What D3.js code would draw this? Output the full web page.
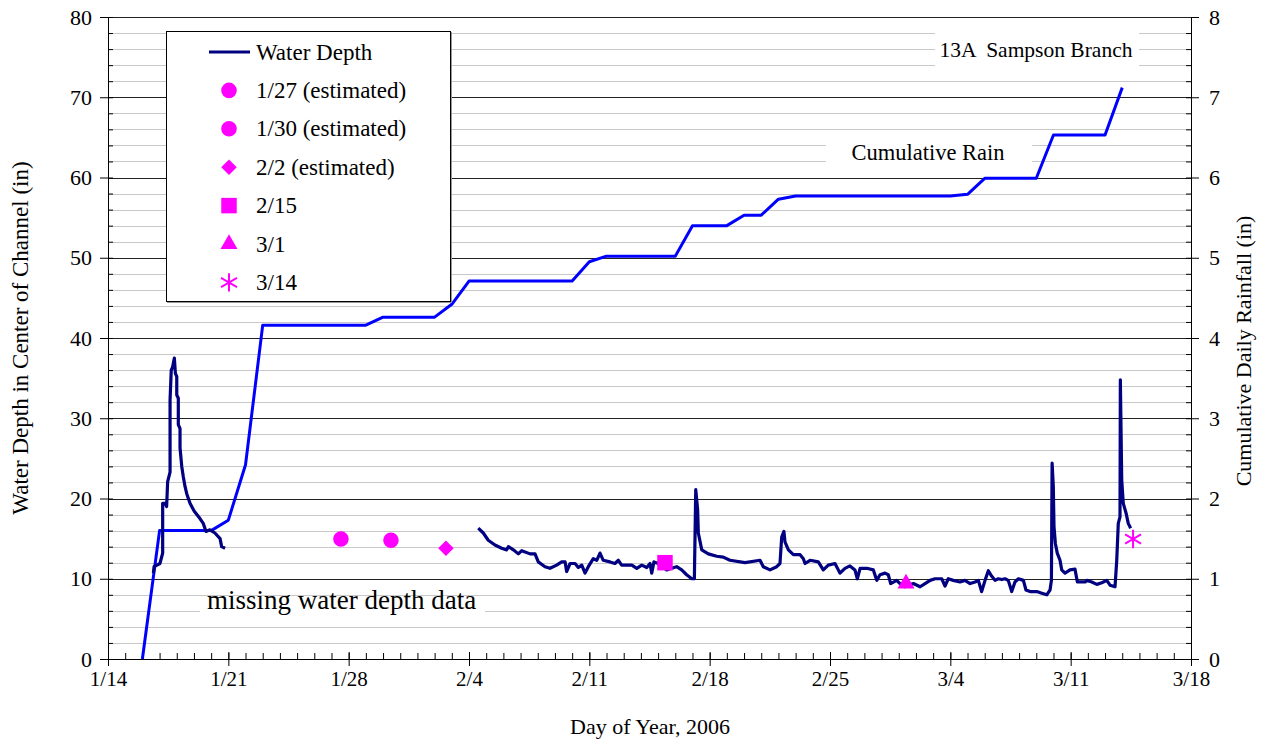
<!DOCTYPE html>
<html>
<head>
<meta charset="utf-8">
<script src="https://cdn.jsdelivr.net/npm/d3@7"></script>
<style>
  body { margin: 0; background: #fff; }
  text { font-family: "Liberation Serif", serif; fill: #000; }
</style>
</head>
<body>
<svg id="chart" width="1271" height="744"></svg>
<script>
// day offsets are counted from 1/14/2006
const startDay = new Date(2006, 0, 14)

// water depth (in), recorded in two pieces with a gap between them
const depthPart1 = [
  [2.64, 10.7], [2.68, 11.5], [3.02, 11.9], [3.18, 13.2], [3.18, 19.4], [3.32, 19.4], [3.41, 19.0],
  [3.47, 22.1], [3.61, 23.3], [3.61, 32.3], [3.68, 36.0], [3.76, 36.4], [3.86, 37.5], [3.92, 35.6],
  [4.0, 35.2], [4.0, 32.9], [4.09, 32.5], [4.09, 29.2], [4.19, 28.7], [4.19, 26.3], [4.29, 24.0],
  [4.38, 22.7], [4.48, 21.5], [4.58, 20.6], [4.77, 19.4], [5.02, 18.4], [5.35, 17.5], [5.54, 16.9],
  [5.70, 15.9], [5.93, 16.1], [6.22, 15.7], [6.52, 15.0], [6.61, 14.0], [6.81, 13.8]
]
const depthPart2 = [
  [21.54, 16.3], [21.83, 15.7], [22.12, 14.8], [22.51, 14.2], [22.90, 13.8], [23.19, 13.6], [23.29, 14.0],
  [23.58, 13.6], [23.87, 13.1], [24.07, 13.5], [24.55, 13.1], [24.84, 13.1], [25.03, 12.1], [25.42, 11.5],
  [25.71, 11.3], [26.10, 11.7], [26.39, 12.1], [26.59, 12.1], [26.68, 10.9], [26.88, 11.9], [27.17, 11.9],
  [27.36, 11.4], [27.56, 11.7], [27.75, 10.7], [27.94, 11.5], [28.23, 12.5], [28.43, 12.3], [28.62, 13.2],
  [28.81, 12.3], [29.20, 12.1], [29.49, 11.9], [29.69, 12.3], [29.88, 11.7], [30.17, 11.7], [30.47, 11.7],
  [30.76, 11.3], [31.05, 11.7], [31.34, 11.4], [31.53, 11.9], [31.63, 10.7], [31.76, 12.1], [32.01, 11.9],
  [32.50, 11.1], [32.79, 11.3], [33.08, 11.5], [33.37, 11.1], [33.66, 10.5], [33.96, 10.0], [34.11, 10.0],
  [34.19, 21.1], [34.30, 18.6], [34.34, 15.7], [34.54, 13.6], [34.92, 13.1], [35.41, 12.8], [35.79, 12.7],
  [36.18, 12.3], [37.06, 12.0], [37.93, 12.3], [38.12, 11.5], [38.51, 11.1], [38.90, 11.5], [39.09, 11.9],
  [39.19, 15.2], [39.32, 15.9], [39.38, 14.6], [39.58, 13.6], [39.87, 13.0], [40.26, 13.0], [40.45, 12.5],
  [40.55, 11.9], [40.84, 12.3], [41.32, 12.1], [41.61, 11.1], [41.90, 11.7], [42.29, 11.9], [42.58, 10.7],
  [42.87, 11.3], [43.16, 11.6], [43.45, 11.1], [43.59, 10.0], [43.75, 11.3], [44.14, 11.3], [44.52, 11.1],
  [44.72, 9.8], [44.91, 10.5], [45.20, 10.7], [45.39, 10.5], [45.53, 9.4], [45.88, 9.8], [46.07, 9.4],
  [46.36, 9.0], [46.85, 9.4], [47.24, 9.0], [47.53, 9.4], [47.82, 9.8], [48.11, 10.0], [48.50, 10.0],
  [48.69, 9.1], [48.88, 10.0], [49.17, 9.8], [49.56, 9.6], [49.85, 9.8], [50.15, 9.4], [50.44, 9.6],
  [50.63, 9.8], [50.82, 8.4], [51.02, 9.8], [51.21, 11.0], [51.41, 10.3], [51.60, 9.8], [51.79, 10.0],
  [51.99, 9.9], [52.18, 10.0], [52.37, 9.8], [52.57, 8.4], [52.76, 9.6], [52.96, 10.0], [53.25, 9.8],
  [53.40, 8.6], [53.64, 8.4], [54.03, 8.4], [54.32, 8.2], [54.61, 8.0], [54.80, 8.6], [54.88, 9.8],
  [54.92, 24.4], [54.99, 21.5], [55.03, 16.5], [55.11, 14.4], [55.22, 13.2], [55.38, 12.3], [55.48, 11.1],
  [55.67, 10.7], [55.96, 11.1], [56.25, 11.2], [56.39, 9.6], [56.84, 9.6], [56.94, 9.8], [57.23, 9.6],
  [57.52, 9.3], [57.81, 9.5], [58.10, 9.8], [58.29, 9.2], [58.58, 9.0], [58.68, 12.3], [58.77, 16.9],
  [58.87, 17.7], [58.89, 34.8], [58.97, 22.3], [59.06, 19.4], [59.22, 18.2], [59.35, 16.9], [59.49, 16.3]
]

// cumulative rain (in), right axis
const rainDays = [2, 3, 6, 7, 8, 9, 15, 16, 19, 20, 21, 27, 28, 29, 33, 34, 36, 37, 38, 39, 40, 49, 50, 51, 54, 55, 58, 59]
const rainVals = [0, 1.6, 1.6, 1.73, 2.42, 4.16, 4.16, 4.26, 4.26, 4.42, 4.71, 4.71, 4.95, 5.02, 5.02, 5.40, 5.40,
  5.53, 5.53, 5.73, 5.77, 5.77, 5.79, 5.99, 5.99, 6.53, 6.53, 7.12]

// measured / estimated depths
const pointLabels = ["1/27 (estimated)", "1/30 (estimated)", "2/2 (estimated)", "2/15", "3/1", "3/14"]
const pointShapes = ["circle", "circle", "diamond", "square", "triangle", "asterisk"]
const pointDays = [13.55, 16.46, 19.66, 32.4, 46.42, 59.63]
const pointVals = [14.95, 14.8, 13.8, 12.0, 9.4, 14.95]

const xTickDays = [0, 7, 14, 21, 28, 35, 42, 49, 56, 63]
const leftTicks = [0, 10, 20, 30, 40, 50, 60, 70, 80]
const rightTicks = [0, 1, 2, 3, 4, 5, 6, 7, 8]

const toDate = d => new Date(startDay.getTime() + d * 864e5)

const margin = { top: 17, right: 80, bottom: 85, left: 108 }
const width = 1083
const height = 642
const depthColor = '#000080'
const rainColor = '#0000ff'
const markColor = '#ff00ff'
const serif = '"Liberation Serif", serif'

const svg = d3.select('#chart')
const chart = svg.append('g').attr('transform', `translate(${margin.left}, ${margin.top})`)

const x = d3.scaleTime().domain([toDate(0), toDate(63)]).range([0, width])
const yL = d3.scaleLinear().domain([0, 80]).range([height, 0])
const yR = d3.scaleLinear().domain([0, 8]).range([height, 0])

// grid
const gridVals = d3.range(2, 81, 2)
chart.append('g').selectAll('line')
  .data(gridVals)
  .join('line')
  .attr('x1', 0).attr('x2', width)
  .attr('y1', d => Math.round(yL(d)) + 0.5).attr('y2', d => Math.round(yL(d)) + 0.5)
  .attr('stroke', d => d % 10 === 0 ? '#222' : '#c8c8c8')
  .attr('stroke-width', 1)

// white boxes behind the notes
const noteBox = (x0, y0, bw, bh) => chart.append('rect')
  .attr('x', x0 - margin.left).attr('y', y0 - margin.top)
  .attr('width', bw).attr('height', bh).attr('fill', '#fff')
noteBox(935, 28, 204, 44)
noteBox(826, 135, 206, 35)
noteBox(200, 600, 285, 22)

// axes
const styleAxis = (g, size = 20) => {
  g.attr('font-family', serif).attr('font-size', size)
  g.selectAll('text').style('font-family', serif).style('font-size', size + 'px').attr('fill', '#000')
  g.selectAll('line').attr('stroke', '#000')
  g.select('.domain').attr('stroke', '#000')
}
chart.append('g')
  .call(d3.axisLeft(yL).tickValues(leftTicks).tickSize(8).tickSizeOuter(0).tickPadding(8))
  .call(styleAxis, 22)
chart.append('g')
  .call(d3.axisLeft(yL).tickValues(gridVals).tickSize(-5).tickSizeOuter(0).tickFormat(''))
  .call(styleAxis)
chart.append('g')
  .attr('transform', `translate(${width}, 0)`)
  .call(d3.axisRight(yR).tickValues(rightTicks).tickSize(8).tickSizeOuter(0).tickPadding(10))
  .call(styleAxis, 22)
chart.append('g')
  .attr('transform', `translate(${width}, 0)`)
  .call(d3.axisRight(yR).tickValues(d3.range(0.2, 8, 0.2)).tickSize(-5).tickSizeOuter(0).tickFormat(''))
  .call(styleAxis)
chart.append('g')
  .attr('transform', `translate(0, ${height})`)
  .call(d3.axisBottom(x).tickValues(d3.range(0, 64).map(toDate)).tickSize(-6).tickSizeOuter(0).tickFormat(''))
  .call(styleAxis)
chart.append('g')
  .attr('transform', `translate(0, ${height})`)
  .call(d3.axisBottom(x).tickValues(xTickDays.map(toDate)).tickSize(-7).tickSizeOuter(0).tickFormat(''))
  .call(styleAxis)
chart.append('g')
  .attr('transform', `translate(0, ${height})`)
  .call(d3.axisBottom(x).tickValues(xTickDays.map(toDate)).tickSize(7).tickSizeOuter(0).tickPadding(5)
    .tickFormat(d3.timeFormat('%-m/%-d')))
  .call(styleAxis, 21)

// lines
const rainLine = d3.line()
  .x((d, i) => x(toDate(rainDays[i])))
  .y(d => yR(d))
chart.append('path')
  .datum(rainVals)
  .attr('fill', 'none')
  .attr('stroke', rainColor)
  .attr('stroke-width', 3)
  .attr('stroke-linejoin', 'round')
  .attr('d', rainLine)

const depthLine = d3.line()
  .x(d => x(toDate(d[0])))
  .y(d => yL(d[1]))
chart.selectAll('.depth')
  .data([depthPart1, depthPart2])
  .join('path')
  .attr('class', 'depth')
  .attr('fill', 'none')
  .attr('stroke', depthColor)
  .attr('stroke-width', 3.2)
  .attr('stroke-linejoin', 'round')
  .attr('d', depthLine)

// markers
const asterisk = {
  draw(ctx, size) {
    const r = Math.sqrt(size) / 2
    const a = r * Math.cos(Math.PI / 6), b = r * Math.sin(Math.PI / 6)
    ctx.moveTo(0, -r); ctx.lineTo(0, r)
    ctx.moveTo(-a, -b); ctx.lineTo(a, b)
    ctx.moveTo(-a, b); ctx.lineTo(a, -b)
  }
}
const drawMark = (sel, shape) => {
  if (shape === 'circle') sel.attr('d', d3.symbol(d3.symbolCircle, 190)()).attr('fill', markColor)
  if (shape === 'square') sel.attr('d', d3.symbol(d3.symbolSquare, 240)()).attr('fill', markColor)
  if (shape === 'diamond') sel.attr('d', d3.symbol(d3.symbolSquare, 120)()).attr('fill', markColor)
    .attr('transform', sel.attr('transform') + ' rotate(45)')
  if (shape === 'triangle') sel.attr('d', d3.symbol(d3.symbolTriangle, 125)()).attr('fill', markColor)
  if (shape === 'asterisk') sel.attr('d', d3.symbol(asterisk, 340)()).attr('fill', 'none')
    .attr('stroke', markColor).attr('stroke-width', 2)
}
pointDays.forEach((d, i) => {
  const p = chart.append('path').attr('transform', `translate(${x(toDate(d))}, ${yL(pointVals[i])})`)
  drawMark(p, pointShapes[i])
})

// legend
const legend = svg.append('g').attr('transform', 'translate(166, 31)')
legend.append('rect').attr('x', 1).attr('y', 1).attr('width', 285).attr('height', 271).attr('fill', '#999')
legend.append('rect').attr('x', 0.5).attr('y', 0.5).attr('width', 284).attr('height', 270)
  .attr('fill', '#fff').attr('stroke', '#000')
const rowY = i => 21 + i * 38.4
legend.append('line').attr('x1', 43).attr('x2', 84).attr('y1', rowY(0)).attr('y2', rowY(0))
  .attr('stroke', depthColor).attr('stroke-width', 3)
legend.append('text').attr('x', 90).attr('y', rowY(0)).attr('dy', '0.33em')
  .style('font-size', '23px').text('Water Depth')
pointLabels.forEach((lab, i) => {
  const p = legend.append('path').attr('transform', `translate(63, ${rowY(i + 1)})`)
  drawMark(p, pointShapes[i])
  legend.append('text').attr('x', 90).attr('y', rowY(i + 1)).attr('dy', '0.33em')
    .style('font-size', '23px').text(lab)
})

// notes
svg.append('text').attr('x', 1036).attr('y', 50).attr('dy', '0.33em').attr('text-anchor', 'middle')
  .style('font-size', '21.5px').style('white-space', 'pre').text('13A  Sampson Branch')
svg.append('text').attr('x', 928).attr('y', 153).attr('dy', '0.33em').attr('text-anchor', 'middle')
  .style('font-size', '22.5px').text('Cumulative Rain')
svg.append('text').attr('x', 207).attr('y', 600).attr('dy', '0.33em')
  .style('font-size', '27px').text('missing water depth data')

// axis titles
svg.append('text').attr('transform', 'translate(28, 338) rotate(-90)').attr('text-anchor', 'middle')
  .style('font-size', '23px').text('Water Depth in Center of Channel (in)')
svg.append('text').attr('transform', 'translate(1251, 351) rotate(-90)').attr('text-anchor', 'middle')
  .style('font-size', '22px').text('Cumulative Daily Rainfall (in)')
svg.append('text').attr('x', 650).attr('y', 734).attr('text-anchor', 'middle')
  .style('font-size', '22px').text('Day of Year, 2006')
</script>
</body>
</html>
